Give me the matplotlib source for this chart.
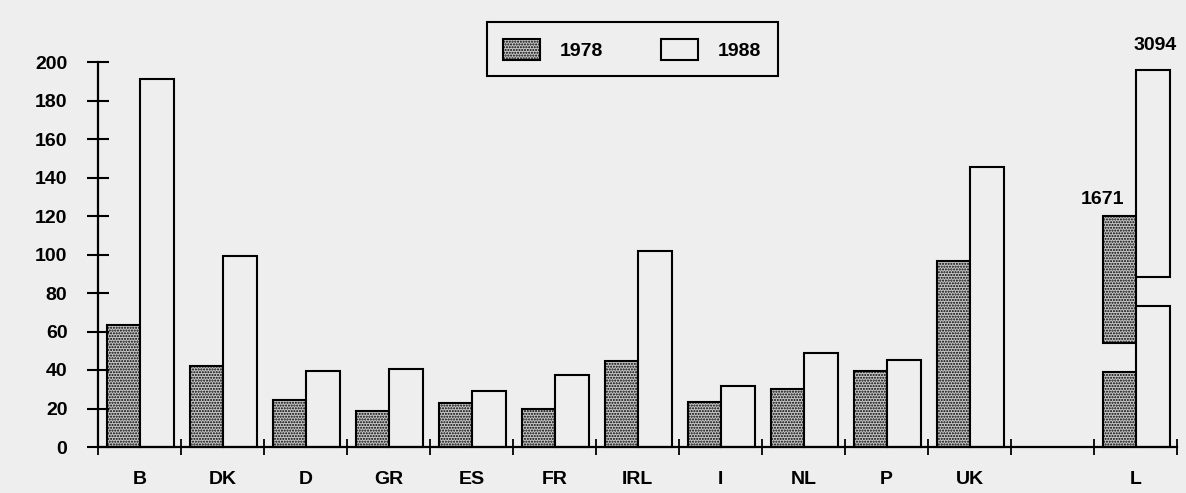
import matplotlib
matplotlib.use('Agg')
import matplotlib.pyplot as plt
from matplotlib.patches import Patch
import numpy as np

# ---- data ----
countries = ['B', 'DK', 'D', 'GR', 'ES', 'FR', 'IRL', 'I', 'NL', 'P', 'UK']
v1978 = [63.5, 42, 24.5, 18.5, 23, 19.5, 44.5, 23.5, 30, 39.5, 96.5]
v1988 = [191, 99, 39.5, 40.5, 29, 37.5, 102, 31.5, 49, 45, 145.5]
# Luxembourg drawn with a broken bar (real totals shown as labels)
lux_label = 'L'
lux1978_low = 39
lux1978_high = (54, 120)
lux1988_low = 73
lux1988_high = (88.5, 196)
lux1978_total = '1671'
lux1988_total = '3094'
series_names = ['1978', '1988']
yticks = list(range(0, 201, 20))

bg = '#eeeeee'
stip = '#c6c6c6'
plt.rcParams['hatch.linewidth'] = 1.0
plt.rcParams['hatch.color'] = '#3a3a3a'
plt.rcParams['font.family'] = ['Liberation Sans', 'DejaVu Sans']

FS = 14

fig = plt.figure(figsize=(11.86, 4.93), dpi=100, facecolor=bg)
ax = fig.add_axes([98 / 1186, 1 - 447 / 493, (1177 - 98) / 1186, (447 - 62) / 493])
ax.set_facecolor('none')

pos = np.arange(len(countries))
lpos = len(countries) + 1
w = 0.4
o1, o2 = 0.31, 0.71
kw78 = dict(color=stip, edgecolor='black', hatch='......', linewidth=1.5, clip_on=False)
kw88 = dict(color=bg, edgecolor='black', linewidth=1.5, clip_on=False)

ax.bar(pos + o1, v1978, w, **kw78)
ax.bar(pos + o2, v1988, w, **kw88)
ax.bar(lpos + o1, lux1978_low, w, **kw78)
ax.bar(lpos + o1, lux1978_high[1] - lux1978_high[0], w, bottom=lux1978_high[0], **kw78)
ax.bar(lpos + o2, lux1988_low, w, **kw88)
ax.bar(lpos + o2, lux1988_high[1] - lux1988_high[0], w, bottom=lux1988_high[0], **kw88)

ax.text(lpos + o1 + 0.05, lux1978_high[1] + 4, lux1978_total, ha='right', va='bottom',
        fontsize=FS, fontweight='bold', clip_on=False)
ax.text(lpos + o2 + 0.03, lux1988_high[1] + 8, lux1988_total, ha='center', va='bottom',
        fontsize=FS, fontweight='bold', clip_on=False)

ax.set_xlim(0, lpos + 1)
ax.set_ylim(0, 200)
for s in ['top', 'right']:
    ax.spines[s].set_visible(False)
for s in ['left', 'bottom']:
    ax.spines[s].set_linewidth(1.6)

ax.set_yticks(yticks)
ax.set_yticklabels([str(t) for t in yticks], fontsize=FS, fontweight='bold')
ax.tick_params(axis='y', direction='inout', length=16, width=1.5, pad=14)

ax.set_xticks(list(pos + 0.5) + [lpos + 0.5])
ax.set_xticklabels(countries + [lux_label], fontsize=FS, fontweight='bold')
ax.tick_params(axis='x', which='major', length=0, pad=17)
ax.set_xticks(np.arange(0, lpos + 2), minor=True)
ax.tick_params(axis='x', which='minor', direction='inout', length=12, width=1.3)

handles = [Patch(facecolor=stip, edgecolor='black', hatch='......', linewidth=1.5),
           Patch(facecolor=bg, edgecolor='black', linewidth=1.5)]
leg = fig.legend(handles, series_names, loc='upper center', bbox_to_anchor=(0.533, 0.955),
                 ncol=2, prop={'weight': 'bold', 'size': FS},
                 frameon=True, fancybox=False, framealpha=1, facecolor=bg, edgecolor='black',
                 handlelength=1.9, handleheight=1.3, handletextpad=1.0, columnspacing=3.0,
                 borderpad=0.85, borderaxespad=0)
leg.get_frame().set_linewidth(1.5)

fig.savefig('out.png', dpi=100, facecolor=bg)
